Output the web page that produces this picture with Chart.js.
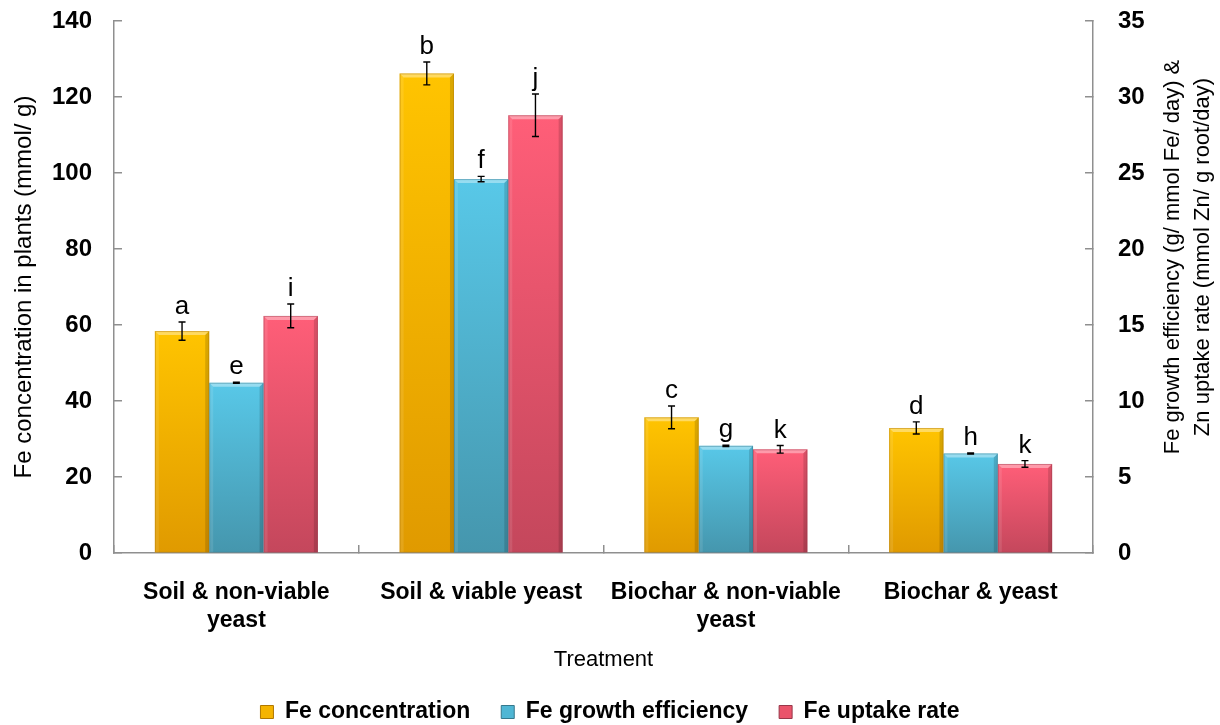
<!DOCTYPE html>
<html>
<head>
<meta charset="utf-8">
<script src="https://cdn.jsdelivr.net/npm/chart.js@4.4.1/dist/chart.umd.min.js"></script>
<style>
  html, body { margin: 0; padding: 0; background: #ffffff; }
  #wrap { width: 1220px; height: 725px; }
</style>
</head>
<body>
<div id="wrap"><canvas id="chart" width="1220" height="725"></canvas></div>
<script>
// Treatments on the x axis
const categories = [
  ['Soil & non-viable', 'yeast'],
  'Soil & viable yeast',
  ['Biochar & non-viable', 'yeast'],
  'Biochar & yeast'
];

// Fe concentration in plants (mmol/g) - left axis
const feConcentration = [58.4, 126.2, 35.7, 32.9];
const feConcentrationErr = [2.4, 3.0, 3.0, 1.6];

// Fe growth efficiency (g/mmol Fe/day) - right axis
const feGrowthEfficiency = [11.2, 24.6, 7.05, 6.55];
const feGrowthEfficiencyErr = [0.04, 0.18, 0.04, 0.04];

// Fe uptake rate - right axis
const feUptakeRate = [15.6, 28.8, 6.82, 5.86];
const feUptakeRateErr = [0.78, 1.4, 0.25, 0.22];

// Significance letters per series
const concentrationLetters = ['a', 'b', 'c', 'd'];
const growthLetters = ['e', 'f', 'g', 'h'];
const uptakeLetters = ['i', 'j', 'k', 'k'];

// Axis ticks
const leftTicks = { min: 0, max: 140, step: 20 };
const rightTicks = { min: 0, max: 35, step: 5 };

const seriesErrors = [feConcentrationErr, feGrowthEfficiencyErr, feUptakeRateErr];
const seriesLetters = [concentrationLetters, growthLetters, uptakeLetters];

const FONT = '"Liberation Sans", Arial, Helvetica, sans-serif';
Chart.defaults.font.family = FONT;
Chart.defaults.color = '#000000';

const AXIS_GREY = '#8f8f8f';

// top / bottom colours of each series' vertical fill
const palette = [
  { top: '#ffc400', bottom: '#e09a00', legend: '#f5b400', edge: '#b07800' },
  { top: '#58c8e8', bottom: '#4596ad', legend: '#4fb6d4', edge: '#35788c' },
  { top: '#ff5e78', bottom: '#c4475c', legend: '#ea546b', edge: '#98384a' }
];

function barFill(pal) {
  return function (ctx) {
    const chart = ctx.chart;
    if (ctx.type !== 'data' || !chart.chartArea) return pal.legend;
    const axisId = ctx.dataset.yAxisID;
    const scale = chart.scales[axisId];
    const v = ctx.parsed ? ctx.parsed.y : ctx.raw;
    const yTop = scale.getPixelForValue(v);
    const yBase = scale.getPixelForValue(0);
    if (!isFinite(yTop) || !isFinite(yBase) || yTop === yBase) return pal.legend;
    const g = chart.ctx.createLinearGradient(0, yTop, 0, yBase);
    g.addColorStop(0, pal.top);
    g.addColorStop(1, pal.bottom);
    return g;
  };
}

// bevelled edges, error bars and letters over each bar
const barDecorations = {
  id: 'barDecorations',
  afterDatasetsDraw(chart) {
    const ctx = chart.ctx;
    chart.data.datasets.forEach((ds, i) => {
      const meta = chart.getDatasetMeta(i);
      const scale = chart.scales[meta.yAxisID];
      meta.data.forEach((bar, j) => {
        const p = bar.getProps(['x', 'y', 'width', 'base'], true);
        const left = p.x - p.width / 2, right = p.x + p.width / 2;
        const top = p.y, base = p.base;
        const b = 4;
        ctx.save();
        // top light bevel
        ctx.beginPath();
        ctx.moveTo(left, top); ctx.lineTo(right, top);
        ctx.lineTo(right - b, top + b); ctx.lineTo(left + b, top + b);
        ctx.closePath();
        ctx.fillStyle = 'rgba(255,255,255,0.38)';
        ctx.fill();
        // left bevel
        ctx.beginPath();
        ctx.moveTo(left, top); ctx.lineTo(left + b, top + b);
        ctx.lineTo(left + b, base); ctx.lineTo(left, base);
        ctx.closePath();
        ctx.fillStyle = 'rgba(255,255,255,0.10)';
        ctx.fill();
        // right bevel
        ctx.beginPath();
        ctx.moveTo(right, top); ctx.lineTo(right - b, top + b);
        ctx.lineTo(right - b, base); ctx.lineTo(right, base);
        ctx.closePath();
        ctx.fillStyle = 'rgba(0,0,0,0.14)';
        ctx.fill();
        // thin outline
        ctx.strokeStyle = palette[i].edge;
        ctx.globalAlpha = 0.45;
        ctx.lineWidth = 1;
        ctx.strokeRect(left + 0.5, top + 0.5, p.width - 1, base - top - 0.5);
        ctx.restore();

        // error bar
        const v = ds.data[j];
        const e = seriesErrors[i][j];
        const yHi = scale.getPixelForValue(v + e);
        const yLo = scale.getPixelForValue(v - e);
        ctx.save();
        ctx.strokeStyle = '#000000';
        ctx.lineWidth = 1.4;
        ctx.beginPath();
        ctx.moveTo(p.x, yHi); ctx.lineTo(p.x, yLo);
        ctx.moveTo(p.x - 3.5, yHi); ctx.lineTo(p.x + 3.5, yHi);
        ctx.moveTo(p.x - 3.5, yLo); ctx.lineTo(p.x + 3.5, yLo);
        ctx.stroke();
        // letter
        ctx.fillStyle = '#000000';
        ctx.font = '26px ' + FONT;
        ctx.textAlign = 'center';
        ctx.textBaseline = 'alphabetic';
        ctx.fillText(seriesLetters[i][j], p.x, Math.min(yHi, top) - 8);
        ctx.restore();
      });
    });
  }
};

// right axis title reads bottom-to-top like the left one
const rightAxisTitle = {
  id: 'rightAxisTitle',
  afterDraw(chart) {
    const ctx = chart.ctx;
    const lines = ['Fe growth efficiency (g/ mmol Fe/ day) &', 'Zn uptake rate (mmol Zn/ g root/day)'];
    ctx.save();
    ctx.translate(1188, 257);
    ctx.rotate(-Math.PI / 2);
    ctx.fillStyle = '#000000';
    ctx.font = '22px ' + FONT;
    ctx.textAlign = 'center';
    ctx.textBaseline = 'middle';
    ctx.fillText(lines[0], 0, -15);
    ctx.fillText(lines[1], 0, 15);
    ctx.restore();
  }
};

const axisGrid = { drawOnChartArea: false, tickLength: -8, color: AXIS_GREY, lineWidth: 1.5 };
const axisBorder = { color: AXIS_GREY, width: 1.5 };

// fixed axis band sizes; vertical label overhang handled by the layout padding
function fixVertical(width) {
  return function (s) {
    s.width = width;
    s.paddingTop = 0;
    s.paddingBottom = 0;
  };
}

new Chart(document.getElementById('chart'), {
  type: 'bar',
  data: {
    labels: categories,
    datasets: [
      { label: 'Fe concentration', data: feConcentration, yAxisID: 'y', backgroundColor: barFill(palette[0]) },
      { label: 'Fe growth efficiency', data: feGrowthEfficiency, yAxisID: 'y2', backgroundColor: barFill(palette[1]) },
      { label: 'Fe uptake rate', data: feUptakeRate, yAxisID: 'y2', backgroundColor: barFill(palette[2]) }
    ]
  },
  options: {
    responsive: false,
    animation: false,
    devicePixelRatio: 1,
    layout: { padding: { top: 21, left: 0, right: 0, bottom: -8.5 } },
    datasets: { bar: { barPercentage: 1.0, categoryPercentage: 0.666, borderWidth: 0 } },
    plugins: {
      tooltip: { enabled: false },
      legend: {
        position: 'bottom',
        labels: {
          font: { size: 23, weight: 'bold' },
          color: '#000000',
          boxWidth: 13,
          boxHeight: 13,
          padding: 31,
          generateLabels(chart) {
            return chart.data.datasets.map((ds, i) => ({
              text: ds.label,
              fillStyle: palette[i].legend,
              strokeStyle: palette[i].edge,
              lineWidth: 1,
              hidden: false,
              datasetIndex: i,
              fontColor: '#000000'
            }));
          }
        }
      }
    },
    scales: {
      x: {
        type: 'category',
        offset: true,
        grid: Object.assign({ offset: true }, axisGrid),
        border: axisBorder,
        ticks: { font: { size: 23, weight: 'bold' }, padding: 34, maxRotation: 0, minRotation: 0, autoSkip: false, color: '#000000' },
        title: { display: true, text: 'Treatment', font: { size: 22 }, color: '#000000', padding: { top: 0, bottom: -3.7 } },
        afterFit(s) { s.height = 116.5; }
      },
      y: {
        position: 'left',
        min: leftTicks.min,
        max: leftTicks.max,
        grid: axisGrid,
        border: axisBorder,
        ticks: { stepSize: leftTicks.step, padding: 30, font: { size: 24, weight: 'bold' }, color: '#000000' },
        title: { display: true, text: 'Fe concentration in plants (mmol/ g)', font: { size: 24 }, color: '#000000', padding: { top: 9.6, bottom: 0 } },
        afterFit: fixVertical(114)
      },
      y2: {
        position: 'right',
        min: rightTicks.min,
        max: rightTicks.max,
        grid: axisGrid,
        border: axisBorder,
        ticks: { stepSize: rightTicks.step, padding: 33, font: { size: 24, weight: 'bold' }, color: '#000000' },
        title: { display: false },
        afterFit: fixVertical(127)
      }
    }
  },
  plugins: [barDecorations, rightAxisTitle]
});
</script>
</body>
</html>
